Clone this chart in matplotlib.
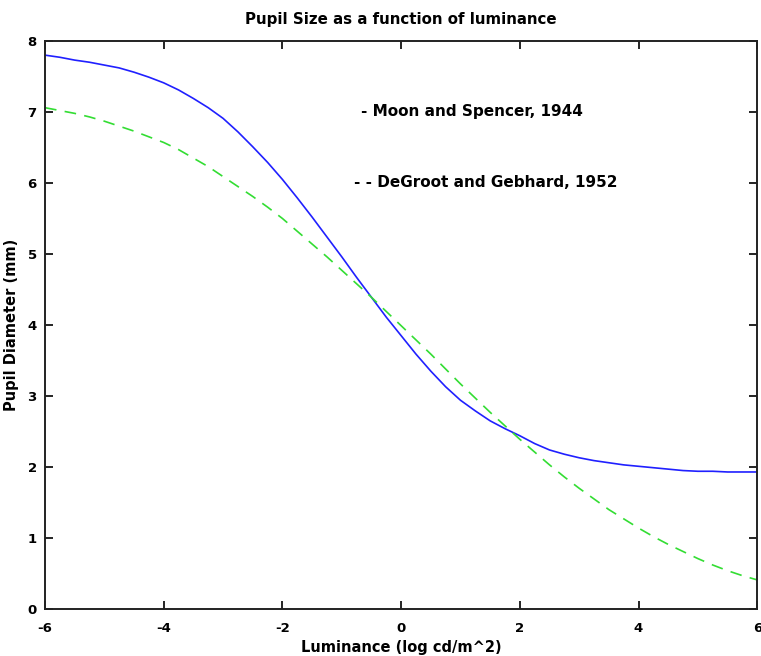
import matplotlib
matplotlib.use("Agg")
import matplotlib.pyplot as plt

# ============================================================
# DATOS
# ============================================================

luminancia = [-6.00, -5.75, -5.50, -5.25, -5.00, -4.75, -4.50, -4.25,
              -4.00, -3.75, -3.50, -3.25, -3.00, -2.75, -2.50, -2.25,
              -2.00, -1.75, -1.50, -1.25, -1.00, -0.75, -0.50, -0.25,
              0.00, 0.25, 0.50, 0.75, 1.00, 1.25, 1.50, 1.75,
              2.00, 2.25, 2.50, 2.75, 3.00, 3.25, 3.50, 3.75,
              4.00, 4.25, 4.50, 4.75, 5.00, 5.25, 5.50, 5.75, 6.00]

moon_spencer = [7.80, 7.77, 7.73, 7.70, 7.66, 7.62, 7.56, 7.49,
                7.41, 7.31, 7.19, 7.06, 6.91, 6.72, 6.51, 6.29,
                6.05, 5.79, 5.52, 5.24, 4.96, 4.67, 4.39, 4.11,
                3.85, 3.59, 3.35, 3.13, 2.94, 2.79, 2.65, 2.54,
                2.44, 2.33, 2.24, 2.18, 2.13, 2.09, 2.06, 2.03,
                2.01, 1.99, 1.97, 1.95, 1.94, 1.94, 1.93, 1.93, 1.93]

degroot_gebhard = [7.06, 7.02, 6.98, 6.93, 6.87, 6.80, 6.73, 6.65,
                   6.57, 6.47, 6.35, 6.23, 6.09, 5.95, 5.81, 5.66,
                   5.50, 5.32, 5.14, 4.96, 4.77, 4.58, 4.39, 4.19,
                   3.99, 3.79, 3.59, 3.38, 3.17, 2.97, 2.77, 2.58,
                   2.39, 2.21, 2.03, 1.86, 1.70, 1.55, 1.40, 1.27,
                   1.14, 1.02, 0.91, 0.81, 0.71, 0.62, 0.54, 0.47, 0.41]

x_ticks = [-6, -4, -2, 0, 2, 4, 6]
y_ticks = [0, 1, 2, 3, 4, 5, 6, 7, 8]

# ============================================================
# FIGURA
# ============================================================

plt.rcParams["font.family"] = ["DejaVu Sans"]
plt.rcParams["font.weight"] = "bold"
plt.rcParams["axes.unicode_minus"] = False

fig = plt.figure(figsize=(7.61, 6.56), dpi=100)
ax = fig.add_axes([0.0591, 0.0716, 0.936, 0.866])

ax.plot(luminancia, moon_spencer, color="#2020ff", linewidth=1.2)
ax.plot(luminancia, degroot_gebhard, color="#33dd33", linewidth=1.2,
        linestyle=(0, (7, 5)))

ax.text(-0.68, 7.0, "- Moon and Spencer, 1944", fontsize=11,
        va="center", ha="left")
ax.text(-0.8, 6.0, "- - DeGroot and Gebhard, 1952", fontsize=11,
        va="center", ha="left")

ax.set_xlim(-6, 6)
ax.set_ylim(0, 8)
ax.set_xticks(x_ticks)
ax.set_yticks(y_ticks)

ax.tick_params(direction="in", length=6, width=1.2, top=True, right=True,
               labelsize=9.5, pad=6)
ax.tick_params(axis="x", pad=9)

for spine in ax.spines.values():
    spine.set_linewidth(1.4)
    spine.set_color("#222222")

ax.set_title("Pupil Size as a function of luminance", fontsize=10.8,
             fontweight="bold", pad=12)
ax.set_xlabel("Luminance (log cd/m^2)", fontsize=10.5, fontweight="bold",
              labelpad=4)
ax.set_ylabel("Pupil Diameter (mm)", fontsize=10.5, fontweight="bold",
              labelpad=6)

fig.savefig("out.png", dpi=100)
